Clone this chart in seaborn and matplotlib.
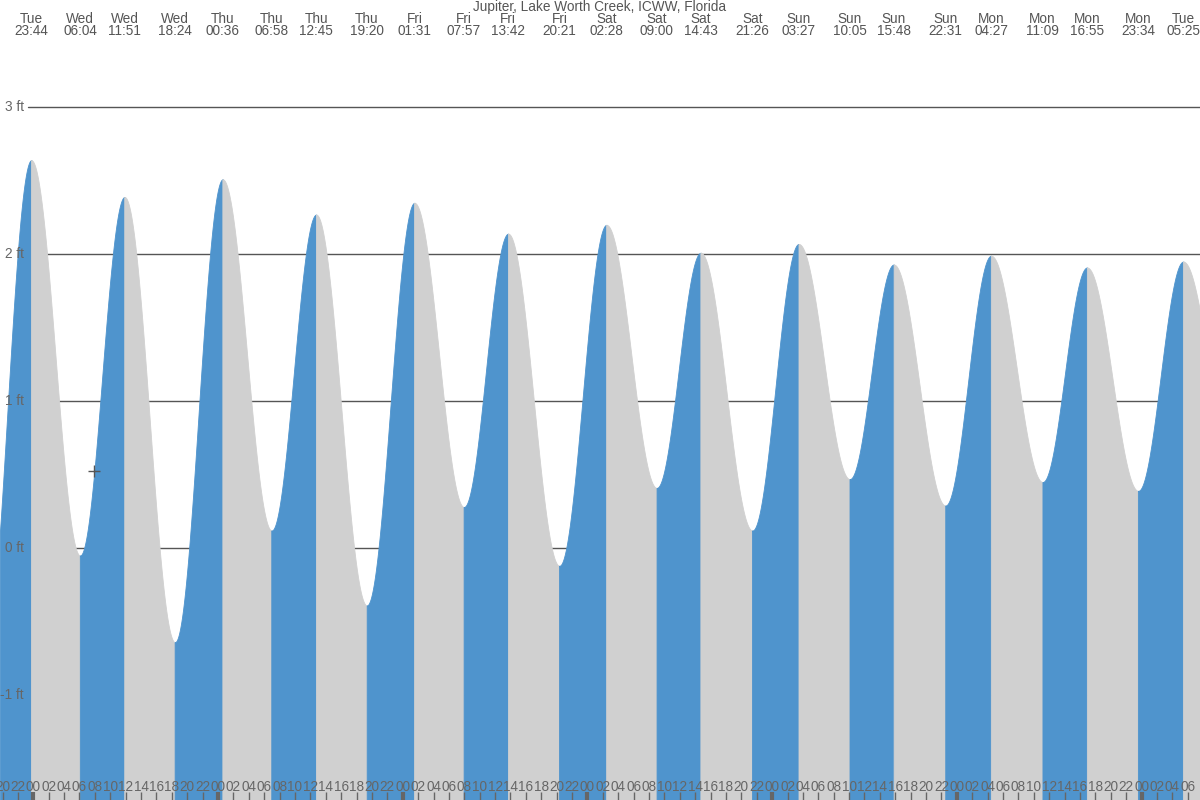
import numpy as np
import pandas as pd
import matplotlib
matplotlib.use('Agg')
import matplotlib.pyplot as plt
import seaborn as sns

# Tide events (day, time, height in ft) - first and last are just outside the view
event_days = ['Tue', 'Tue', 'Wed', 'Wed', 'Wed', 'Thu', 'Thu', 'Thu', 'Thu',
              'Fri', 'Fri', 'Fri', 'Fri', 'Sat', 'Sat', 'Sat', 'Sat',
              'Sun', 'Sun', 'Sun', 'Sun', 'Mon', 'Mon', 'Mon', 'Mon', 'Tue', 'Tue']
event_times = ['17:28', '23:44', '06:04', '11:51', '18:24', '00:36', '06:58', '12:45', '19:20',
               '01:31', '07:57', '13:42', '20:21', '02:28', '09:00', '14:43', '21:26',
               '03:27', '10:05', '15:48', '22:31', '04:27', '11:09', '16:55', '23:34', '05:25', '11:55']
event_heights = [-0.84, 2.64, -0.05, 2.39, -0.64, 2.51, 0.12, 2.27, -0.39,
                 2.35, 0.28, 2.14, -0.12, 2.20, 0.41, 2.01, 0.12,
                 2.07, 0.47, 1.93, 0.29, 1.99, 0.45, 1.91, 0.39, 1.95, 0.62]

# Current time marker
now_day = 'Wed'
now_time = '07:56'

title = 'Jupiter, Lake Worth Creek, ICWW, Florida'
y_ticks = [-1, 0, 1, 2, 3]
y_tick_labels = ['-1 ft', '0 ft', '1 ft', '2 ft', '3 ft']

# Converting day/time to hours since Wed 00:00
day_idx = []
d = -1
for i, day in enumerate(event_days):
    if i > 0 and day != event_days[i - 1]:
        d += 1
    day_idx.append(d)
hours = []
for d, t in zip(day_idx, event_times):
    hh, mm = t.split(':')
    hours.append(d * 24 + int(hh) + int(mm) / 60)
df = pd.DataFrame({'day': event_days, 'time': event_times, 'hours': hours, 'height': event_heights})

x_min, x_max = -4.33, 151.6
y_min, y_max = -1.714, 3.73

# Cosine interpolation between the events
t = np.linspace(x_min, x_max, 4000)
h = np.zeros_like(t)
for i in range(len(df) - 1):
    t0, t1 = df['hours'][i], df['hours'][i + 1]
    h0, h1 = df['height'][i], df['height'][i + 1]
    m = (t >= t0) & (t <= t1)
    h[m] = h0 + (h1 - h0) * (1 - np.cos(np.pi * (t[m] - t0) / (t1 - t0))) / 2

sns.set_style('white')
plt.rcParams['font.family'] = ['Liberation Sans', 'DejaVu Sans']
fs = 9.8

fig = plt.figure(figsize=(12, 8), dpi=100)
ax = fig.add_axes([0, 0, 1, 1])
ax.set_xlim(x_min, x_max)
ax.set_ylim(y_min, y_max)
ax.axis('off')

# Grid lines behind the fill
for yt in y_ticks:
    ax.axhline(yt, xmin=28 / 1200, xmax=1, color='#555555', lw=1, zorder=0)

# Filling rising (blue) and falling (grey) parts
for i in range(len(df) - 1):
    t0, t1 = df['hours'][i], df['hours'][i + 1]
    m = (t >= t0 - 0.05) & (t <= t1 + 0.05)
    color = '#4f94cd' if df['height'][i + 1] > df['height'][i] else '#d0d0d0'
    ax.fill_between(t[m], y_min, h[m], facecolor=color, edgecolor=color, lw=0.6, zorder=1)

# Y labels
for yt, lab in zip(y_ticks, y_tick_labels):
    ax.text(24 / 1200, yt, lab, transform=ax.get_yaxis_transform(), ha='right', va='center',
            fontsize=fs, color='#666666', zorder=3)

# Top labels with day and time of each tide
fig.text(0.5, 1 - 7 / 800, title, ha='center', va='center', fontsize=fs, color='#555555')
for _, row in df.iterrows():
    if x_min < row['hours'] < x_max:
        ax.text(row['hours'], 1 - 19 / 800, row['day'], transform=ax.get_xaxis_transform(),
                ha='center', va='center', fontsize=fs, color='#555555')
        ax.text(row['hours'], 1 - 31 / 800, row['time'], transform=ax.get_xaxis_transform(),
                ha='center', va='center', fontsize=fs, color='#555555')

# Bottom hour labels and ticks
for hr in range(-4, int(x_max) + 1, 2):
    ax.text(hr, 13 / 800, '%02d' % (hr % 24), transform=ax.get_xaxis_transform(),
            ha='center', va='center', fontsize=fs, color='#666666', zorder=3)
    if hr % 24 == 0:
        ax.vlines(hr, 0, 8 / 800, transform=ax.get_xaxis_transform(), color='#666666', lw=3, zorder=3)
    else:
        ax.vlines(hr, 0, 8 / 800, transform=ax.get_xaxis_transform(), color='#666666', lw=1, zorder=3)

# Current time crosshair on the curve
hh, mm = now_time.split(':')
now_h = 0 * 24 + int(hh) + int(mm) / 60
now_y = np.interp(now_h, t, h)
sns.scatterplot(x=[now_h], y=[now_y], marker='+', s=80, color='#555555', linewidth=1, ax=ax, zorder=4)

plt.savefig('out.png', dpi=100)
